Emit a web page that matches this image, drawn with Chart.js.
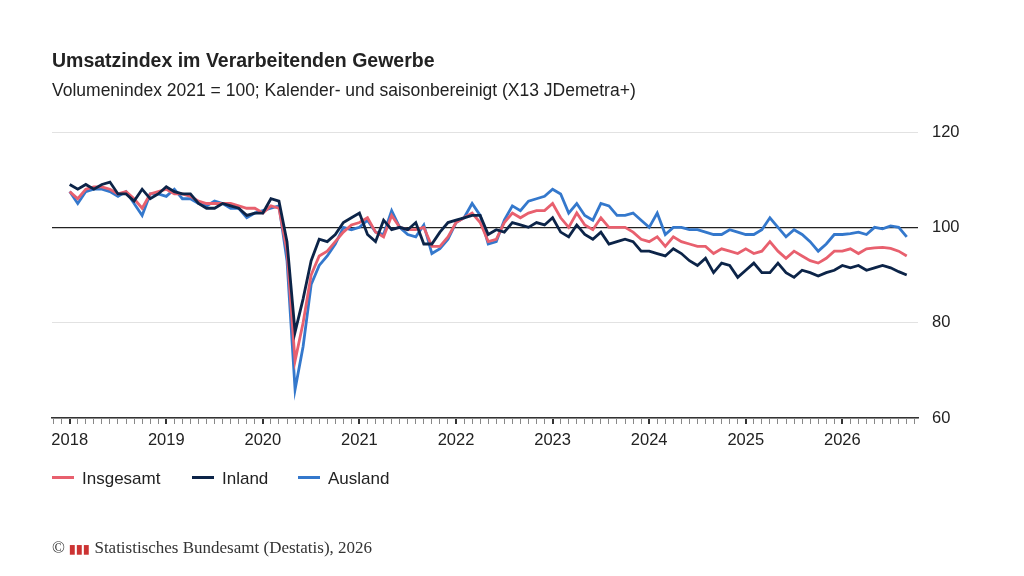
<!DOCTYPE html>
<html><head><meta charset="utf-8">
<script src="https://cdn.jsdelivr.net/npm/chart.js@4"></script>
<style>
body{margin:0;width:1024px;height:576px;position:relative;font-family:Arial,"Liberation Sans",sans-serif;background:#fff;overflow:hidden}
#c{position:absolute;left:0;top:0}
.t{position:absolute;left:52px;top:49px;font-size:19.5px;font-weight:bold;color:#222}
.s{position:absolute;left:52px;top:80px;font-size:17.5px;color:#222}
.lg{position:absolute;top:469px;font-size:17px;color:#222}
.lg span{display:inline-block;width:22px;height:3px;vertical-align:middle;margin-right:8px;position:relative;top:-2px}
.f{position:absolute;left:52px;top:538px;font-family:"Liberation Serif","DejaVu Serif",serif;font-size:17px;color:#333}
</style></head><body>
<canvas id="c" width="1024" height="576"></canvas>
<div class="t">Umsatzindex im Verarbeitenden Gewerbe</div>
<div class="s">Volumenindex 2021 = 100; Kalender- und saisonbereinigt (X13 JDemetra+)</div>
<div class="lg" style="left:52px"><span style="background:#e8606e"></span>Insgesamt</div>
<div class="lg" style="left:192px"><span style="background:#0c2448"></span>Inland</div>
<div class="lg" style="left:298px"><span style="background:#3478cc"></span>Ausland</div>
<div class="f">© <span style="font-family:Arial;font-size:12px;color:#c33;font-weight:bold">▮▮▮</span> Statistisches Bundesamt (Destatis), 2026</div>
<script>
const startYear = 2018;
const yTicks = [60, 80, 100, 120];
const insgesamt = [107.5,106,108,108.5,108.5,108,107,107.5,106,104,107,107.5,
108,107,107,106.5,105.5,105,105,105,105,104.5,104,104,
103,104.5,104,95,72,80,90,94,95,97,99,100.5,
101,102,99,98,102.5,100,99.5,99.5,100,96,96,98,
101,102,103,101,97,97.5,101,103,102,103,103.5,103.5,
105,102,100,103,100.5,99.5,102,100,100,100,99,97.5,
97,98,96,98,97,96.5,96,96,94.5,95.5,95,94.5,
95.5,94.5,95,97,95,93.5,95,94,93,92.5,93.5,95,
95,95.5,94.5,95.5,95.7,95.8,95.6,95,94];
const inland = [109,108,109,108,109,109.5,107,107,105.5,108,106,107,
108.5,107.5,107,107,105,104,104,105,104.5,104,102.5,103,
103,106,105.5,97,78,85,93,97.5,97,98.5,101,102,
103,98.5,97,101.5,99.5,100,99.5,101,96.5,96.5,99,101,
101.5,102,102.5,102.5,98.5,99.5,99,101,100.5,100,101,100.5,
102,99,98,100.5,98.5,97.5,99,96.5,97,97.5,97,95,
95,94.5,94,95.5,94.5,93,92,93.5,90.5,92.5,92,89.5,
91,92.5,90.5,90.5,92.5,90.5,89.5,91,90.5,89.8,90.5,91,
92,91.5,92,91,91.5,92,91.5,90.7,90];
const ausland = [107.5,105,107.5,108,108,107.5,106.5,107.5,105,102.5,107,107,
106.5,108,106,106,105,104.5,105.5,105,104,104,102,103,
103.5,104,104.5,93,66,75,88,92,94,96.5,100,99.5,
100,101.5,99,98.5,103.5,100,98.5,98,100.5,94.5,95.5,97.5,
101,102,105,102.5,96.5,97,101.5,104.5,103.5,105.5,106,106.5,
108,107,103,105,102.5,101.5,105,104.5,102.5,102.5,103,101.5,
100,103,98.5,100,100,99.5,99.5,99,98.5,98.5,99.5,99,
98.5,98.5,99.5,102,100,98,99.5,98.5,97,95,96.5,98.5,
98.5,98.7,99,98.5,100,99.7,100.3,100,98];
const pts = a => a.map((v,i)=>({x:i,y:v}));
const ds = (label,data,color)=>({label,data:pts(data),borderColor:color,borderWidth:2.8,pointRadius:0,tension:0,fill:false});
new Chart(document.getElementById('c'),{
 type:'line',
 data:{datasets:[ds('Inland',inland,'#0c2448'),ds('Insgesamt',insgesamt,'#e8606e'),ds('Ausland',ausland,'#3478cc')]},
 options:{responsive:false,animation:false,
  layout:{padding:{left:52,top:132,right:46,bottom:118}},
  plugins:{legend:{display:false},tooltip:{enabled:false}},
  scales:{
   x:{type:'linear',min:-2.2,max:105.4,
     afterBuildTicks:s=>{s.ticks=[];for(let i=-2;i<=105;i++)s.ticks.push({value:i});},
     afterFit:s=>{s.height=40},
     ticks:{autoSkip:false,maxRotation:0,color:'#222',font:{size:16.5,family:'Arial'},padding:7,
       callback:v=>(v%12===0?String(startYear+v/12):'')},
     grid:{drawOnChartArea:false,drawTicks:true,tickLength:6,
       color:c=>c.tick&&c.tick.value%12===0?'#333':'#888',
       lineWidth:c=>c.tick&&c.tick.value%12===0?2:1},
     border:{display:true,color:'#333',width:1.5}},
   y:{position:'right',min:60,max:120,
     afterBuildTicks:s=>{s.ticks=yTicks.map(v=>({value:v}));},
     afterFit:s=>{s.width=60},
     ticks:{color:'#222',font:{size:16.5,family:'Arial'},padding:14},
     grid:{drawTicks:false,color:c=>c.tick&&c.tick.value===100?'#222':'#e2e2e2',lineWidth:c=>c.tick&&c.tick.value===100?1.3:1},
     border:{display:false}}
  }}
});
</script>
</body></html>
